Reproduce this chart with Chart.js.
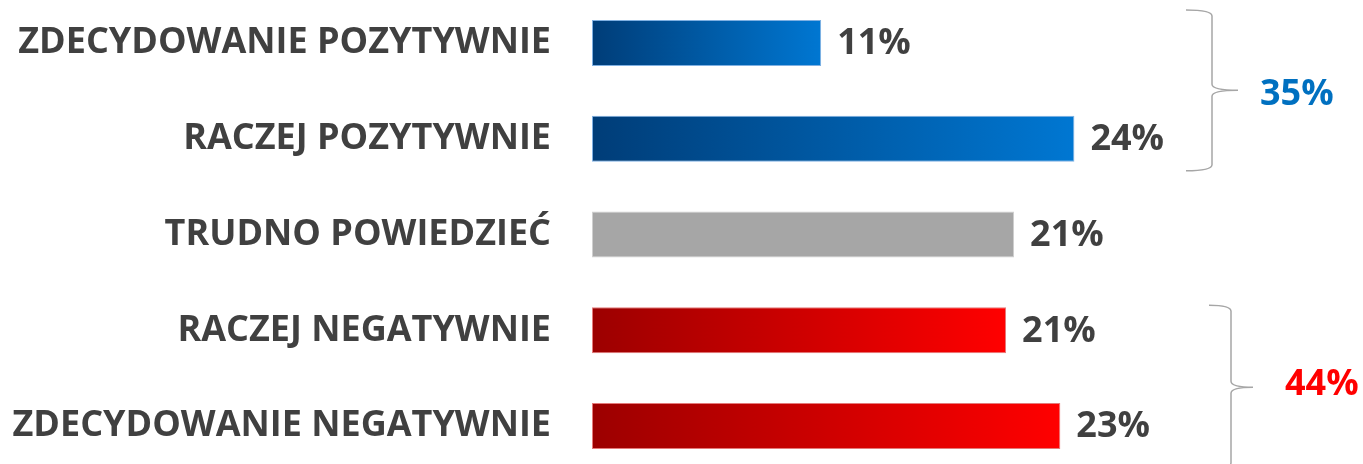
<!DOCTYPE html>
<html>
<head>
<meta charset="utf-8">
<script src="https://cdn.jsdelivr.net/npm/chart.js@4"></script>
<style>
  html, body { margin: 0; padding: 0; background: #fff; overflow: hidden; }
  #wrap { position: absolute; left: 0; top: -5px; width: 1363px; height: 479px; }
</style>
</head>
<body>
<div id="wrap"><canvas id="chart"></canvas></div>
<script>
const categories = ['ZDECYDOWANIE POZYTYWNIE', 'RACZEJ POZYTYWNIE', 'TRUDNO POWIEDZIEĆ', 'RACZEJ NEGATYWNIE', 'ZDECYDOWANIE NEGATYWNIE'];
// bar lengths, labels as printed
const values = [11.4, 24.0, 21.0, 20.6, 23.3];
const valueLabels = ['11%', '24%', '21%', '21%', '23%'];
const tones = ['blue', 'blue', 'gray', 'red', 'red'];
const groupLabels = ['35%', '44%'];
const groupMembers = [[0, 1], [3, 4]];

const FONT = '"Open Sans", "Liberation Sans", sans-serif';
const TEXT = '#404040';

const palette = {
  blue: { from: '#003d78', to: '#0077d2', border: '#7fb0e2' },
  red:  { from: '#9c0000', to: '#ff0000', border: '#e47a7a' },
  gray: { from: '#a6a6a6', to: '#a6a6a6', border: '#cfcfcf' }
};

function barFill(ctx) {
  const p = palette[tones[ctx.dataIndex]];
  const x = ctx.chart.scales.x;
  if (!x || p.from === p.to) return p.from;
  const x0 = x.getPixelForValue(0), x1 = x.getPixelForValue(ctx.raw);
  if (!isFinite(x0) || !isFinite(x1)) return p.to;
  const g = ctx.chart.ctx.createLinearGradient(x0, 0, x1, 0);
  g.addColorStop(0, p.from);
  g.addColorStop(1, p.to);
  return g;
}

const valueLabelPlugin = {
  id: 'valueLabels',
  afterDatasetsDraw(chart) {
    const c = chart.ctx;
    c.save();
    c.font = 'bold 36px ' + FONT;
    c.fillStyle = TEXT;
    c.textBaseline = 'middle';
    c.textAlign = 'left';
    chart.getDatasetMeta(0).data.forEach((bar, i) => {
      c.fillText(valueLabels[i], bar.x + 16, bar.y + 1);
    });
    c.restore();
  }
};

// curly braces summing the groups
const bracePlugin = {
  id: 'braces',
  afterDraw(chart, args, opts) {
    const c = chart.ctx;
    const y = chart.scales.y;
    opts.groups.forEach((g, gi) => {
      const [a, b] = groupMembers[gi];
      const top = y.getPixelForValue(a) - g.above;
      const bot = y.getPixelForValue(b) + g.below;
      const mid = (top + bot) / 2;
      const x0 = g.x, x1 = g.x + g.w, tip = x1 + g.w;
      const r = 6;
      c.save();
      c.strokeStyle = '#a6a6a6';
      c.lineWidth = 1.5;
      c.beginPath();
      c.moveTo(x0, top);
      c.quadraticCurveTo(x1, top, x1, top + r);
      c.lineTo(x1, mid - r);
      c.quadraticCurveTo(x1, mid, tip, mid);
      c.moveTo(x0, bot);
      c.quadraticCurveTo(x1, bot, x1, bot - r);
      c.lineTo(x1, mid + r);
      c.quadraticCurveTo(x1, mid, tip, mid);
      c.stroke();
      c.font = 'bold 36px ' + FONT;
      c.fillStyle = g.color;
      c.textBaseline = 'middle';
      c.textAlign = 'left';
      c.fillText(groupLabels[gi], g.textX, mid + g.textDy);
      c.restore();
    });
  }
};

new Chart(document.getElementById('chart'), {
  type: 'bar',
  data: {
    labels: categories,
    datasets: [{
      data: values,
      backgroundColor: barFill,
      borderColor: ctx => palette[tones[ctx.dataIndex]].border,
      borderWidth: 1,
      borderSkipped: false,
      barPercentage: 0.48,
      categoryPercentage: 1
    }]
  },
  options: {
    indexAxis: 'y',
    responsive: true,
    maintainAspectRatio: false,
    animation: false,
    layout: { padding: { left: 0, right: 168, top: 0, bottom: 0 } },
    plugins: {
      legend: { display: false },
      tooltip: { enabled: false },
      braces: {
        groups: [
          { x: 1186, w: 26, above: 33, below: 32, color: '#0070c0', textX: 1260, textDy: 4 },
          { x: 1209, w: 22, above: 25, below: 43, color: '#ff0000', textX: 1285, textDy: -2 }
        ]
      }
    },
    scales: {
      x: { display: false, min: 0, max: 30 },
      y: {
        grid: { display: false, drawTicks: false },
        border: { display: false },
        ticks: { color: TEXT, padding: 41, font: { family: FONT, size: 36, weight: 'bold' } },
        afterFit(scale) {
          scale.width = 592;
          scale.paddingTop = 0;
          scale.paddingBottom = 0;
        }
      }
    }
  },
  plugins: [valueLabelPlugin, bracePlugin]
});
</script>
</body>
</html>
